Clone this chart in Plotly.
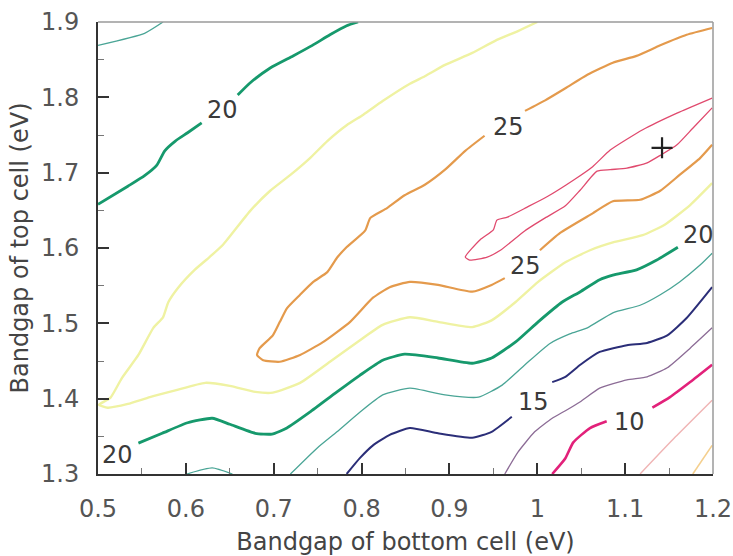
import plotly.graph_objects as go

# ---------------- data ----------------
x_tick_vals = [0.5, 0.6, 0.7, 0.8, 0.9, 1.0, 1.1, 1.2]
x_tick_text = ["0.5", "0.6", "0.7", "0.8", "0.9", "1", "1.1", "1.2"]
y_tick_vals = [1.3, 1.4, 1.5, 1.6, 1.7, 1.8, 1.9]
y_tick_text = ["1.3", "1.4", "1.5", "1.6", "1.7", "1.8", "1.9"]

# 27.5 % contour (red loop)
red_x = [1.199, 1.159, 1.120, 1.083, 1.063, 1.041, 1.011, 0.988, 0.966, 0.954, 0.950, 0.935, 0.918,
         0.923, 0.943, 0.958, 0.986, 1.009, 1.032, 1.049, 1.068, 1.083, 1.102, 1.125, 1.140, 1.159, 1.177, 1.199]
red_y = [1.799, 1.779, 1.757, 1.730, 1.708, 1.690, 1.668, 1.654, 1.641, 1.637, 1.624, 1.611, 1.588,
         1.584, 1.588, 1.597, 1.623, 1.640, 1.656, 1.677, 1.702, 1.704, 1.706, 1.713, 1.723, 1.737, 1.759, 1.786]

# 25 % contour (orange), three pieces separated by labels
orange_a_x = [1.199, 1.170, 1.140, 1.113, 1.086, 1.057, 1.032, 1.009, 0.986]
orange_a_y = [1.892, 1.883, 1.869, 1.855, 1.846, 1.830, 1.812, 1.796, 1.782]
orange_b_x = [0.940, 0.918, 0.895, 0.872, 0.849, 0.829, 0.810, 0.804, 0.782, 0.772, 0.761, 0.745, 0.730,
              0.715, 0.707, 0.699, 0.684, 0.681, 0.688, 0.707, 0.730, 0.756, 0.787, 0.813, 0.832, 0.855,
              0.887, 0.926, 0.948, 0.963]
orange_b_y = [1.749, 1.729, 1.704, 1.684, 1.670, 1.653, 1.640, 1.623, 1.600, 1.587, 1.568, 1.555, 1.538,
              1.520, 1.502, 1.484, 1.467, 1.458, 1.451, 1.449, 1.458, 1.475, 1.502, 1.534, 1.548, 1.555,
              1.551, 1.542, 1.551, 1.560]
orange_c_x = [1.003, 1.026, 1.063, 1.086, 1.117, 1.140, 1.162, 1.185, 1.199]
orange_c_y = [1.597, 1.620, 1.646, 1.662, 1.664, 1.676, 1.697, 1.719, 1.737]

# 22.5 % contour (pale yellow)
yellow_x = [1.000, 0.978, 0.952, 0.926, 0.895, 0.872, 0.855, 0.824, 0.802, 0.783, 0.761, 0.741, 0.719,
            0.696, 0.673, 0.642, 0.627, 0.610, 0.591, 0.580, 0.574, 0.563, 0.546, 0.527, 0.514, 0.501,
            0.511, 0.534, 0.559, 0.588, 0.622, 0.650, 0.679, 0.699, 0.730, 0.764, 0.795, 0.824, 0.855,
            0.887, 0.926, 0.948, 0.975, 1.001, 1.032, 1.060, 1.088, 1.120, 1.145, 1.174, 1.199]
yellow_y = [1.900, 1.888, 1.875, 1.859, 1.843, 1.828, 1.818, 1.795, 1.777, 1.763, 1.742, 1.719, 1.697,
            1.676, 1.649, 1.604, 1.588, 1.571, 1.547, 1.528, 1.508, 1.494, 1.458, 1.427, 1.401, 1.392,
            1.388, 1.393, 1.402, 1.411, 1.421, 1.417, 1.409, 1.408, 1.421, 1.449, 1.475, 1.498, 1.508,
            1.502, 1.495, 1.504, 1.528, 1.555, 1.581, 1.597, 1.608, 1.617, 1.631, 1.657, 1.686]

# 20 % contour (green)
green_a_x = [0.500, 0.534, 0.553, 0.567, 0.576, 0.588, 0.602, 0.618]
green_a_y = [1.658, 1.682, 1.696, 1.710, 1.729, 1.742, 1.753, 1.766]
green_b_x = [0.659, 0.673, 0.696, 0.722, 0.744, 0.764, 0.783, 0.796]
green_b_y = [1.803, 1.819, 1.839, 1.855, 1.869, 1.883, 1.895, 1.900]
green_c_x = [0.546, 0.573, 0.602, 0.630, 0.650, 0.679, 0.698, 0.715, 0.741, 0.772, 0.798, 0.824, 0.849,
             0.887, 0.926, 0.948, 0.975, 1.001, 1.028, 1.049, 1.071, 1.086, 1.113, 1.136, 1.160]
green_c_y = [1.341, 1.354, 1.368, 1.374, 1.366, 1.354, 1.353, 1.361, 1.382, 1.409, 1.431, 1.451, 1.459,
             1.454, 1.447, 1.454, 1.475, 1.502, 1.528, 1.542, 1.558, 1.564, 1.571, 1.584, 1.601]

# 17.5 % contour (teal)
teal_a_x = [0.500, 0.553, 0.574]
teal_a_y = [1.869, 1.885, 1.900]
teal_b_x = [0.601, 0.630, 0.653]
teal_b_y = [1.300, 1.308, 1.300]
teal_c_x = [0.719, 0.749, 0.772, 0.798, 0.824, 0.855, 0.895, 0.933, 0.960, 0.986, 1.014, 1.037, 1.057,
            1.086, 1.117, 1.140, 1.162, 1.185, 1.199]
teal_c_y = [1.300, 1.334, 1.356, 1.382, 1.405, 1.414, 1.405, 1.402, 1.418, 1.445, 1.473, 1.486, 1.494,
            1.514, 1.524, 1.538, 1.555, 1.577, 1.593]

# 15 % contour (dark blue)
blue_a_x = [0.783, 0.798, 0.813, 0.832, 0.855, 0.887, 0.926, 0.948, 0.971]
blue_a_y = [1.300, 1.321, 1.338, 1.352, 1.361, 1.354, 1.348, 1.356, 1.376]
blue_b_x = [1.017, 1.032, 1.049, 1.071, 1.102, 1.125, 1.148, 1.170, 1.199]
blue_b_y = [1.422, 1.429, 1.445, 1.462, 1.471, 1.474, 1.484, 1.507, 1.548]

# 12.5 % contour (mauve)
purple_x = [0.963, 0.978, 0.997, 1.017, 1.032, 1.049, 1.071, 1.102, 1.125, 1.148, 1.174, 1.199]
purple_y = [1.300, 1.329, 1.356, 1.374, 1.384, 1.396, 1.414, 1.425, 1.429, 1.441, 1.467, 1.494]

# 10 % contour (magenta)
magenta_a_x = [1.017, 1.032, 1.041, 1.060, 1.079]
magenta_a_y = [1.300, 1.321, 1.342, 1.361, 1.370]
magenta_b_x = [1.131, 1.151, 1.174, 1.199]
magenta_b_y = [1.388, 1.402, 1.422, 1.445]

# 7.5 % and 5 % contours
pink_x = [1.117, 1.157, 1.199]
pink_y = [1.300, 1.349, 1.398]
lorange_x = [1.177, 1.199]
lorange_y = [1.300, 1.338]

# contour labels
label_text = ["20", "25", "25", "20", "15", "10", "20"]
label_x = [0.642, 0.967, 0.987, 1.184, 0.996, 1.105, 0.522]
label_y = [1.783, 1.761, 1.576, 1.617, 1.396, 1.369, 1.325]

# optimum marker
best_x = [1.142]
best_y = [1.733]

x_title = "Bandgap of bottom cell (eV)"
y_title = "Bandgap of top cell (eV)"

# ---------------- figure ----------------
FONT = "DejaVu Sans"
fig = go.Figure()


def add_line(xs, ys, color, width):
    fig.add_trace(go.Scatter(x=xs, y=ys, mode="lines",
                             line=dict(color=color, width=width, shape="spline", smoothing=0.5),
                             hoverinfo="skip", showlegend=False))


add_line(lorange_x, lorange_y, "#f4cf8e", 1.6)
add_line(pink_x, pink_y, "#f0b4b4", 1.4)
add_line(magenta_a_x, magenta_a_y, "#e2217a", 2.6)
add_line(magenta_b_x, magenta_b_y, "#e2217a", 2.6)
add_line(purple_x, purple_y, "#8c6c96", 1.3)
add_line(blue_a_x, blue_a_y, "#2b2e78", 2.0)
add_line(blue_b_x, blue_b_y, "#2b2e78", 2.0)
add_line(teal_a_x, teal_a_y, "#4aa596", 1.3)
add_line(teal_b_x, teal_b_y, "#4aa596", 1.3)
add_line(teal_c_x, teal_c_y, "#4aa596", 1.3)
add_line(green_a_x, green_a_y, "#16996c", 2.8)
add_line(green_b_x, green_b_y, "#16996c", 2.8)
add_line(green_c_x, green_c_y, "#16996c", 2.8)
add_line(yellow_x, yellow_y, "#eff2a2", 2.4)
add_line(orange_a_x, orange_a_y, "#e49a4c", 2.2)
add_line(orange_b_x, orange_b_y, "#e49a4c", 2.2)
add_line(orange_c_x, orange_c_y, "#e49a4c", 2.2)
add_line(red_x, red_y, "#e04a6e", 1.3)

fig.add_trace(go.Scatter(x=best_x, y=best_y, mode="markers",
                         marker=dict(symbol="cross-thin", size=15, line=dict(color="#222", width=2.2)),
                         hoverinfo="skip", showlegend=False))

for t, lx, ly in zip(label_text, label_x, label_y):
    fig.add_annotation(x=lx, y=ly, text=t, showarrow=False,
                       font=dict(family=FONT, size=24, color="#3a3a3a"))

fig.update_layout(
    width=733, height=556,
    margin=dict(l=98, r=20, t=22, b=82),
    plot_bgcolor="white", paper_bgcolor="white",
    showlegend=False,
    font=dict(family=FONT, size=24, color="#555"),
    shapes=[
        dict(type="line", xref="paper", yref="paper", x0=0, x1=1, y0=1, y1=1,
             line=dict(color="#9a9a9a", width=1.5)),
        dict(type="line", xref="paper", yref="paper", x0=1, x1=1, y0=0, y1=1,
             line=dict(color="#9a9a9a", width=1.5)),
    ],
)

fig.update_xaxes(
    range=[0.5, 1.2], tickvals=x_tick_vals, ticktext=x_tick_text, automargin=False,
    ticks="inside", ticklen=11, tickwidth=1.5, tickcolor="#333",
    showline=True, linecolor="#333", linewidth=2,
    showgrid=False, zeroline=False, ticklabelstandoff=12,
    minor=dict(ticks="inside", ticklen=6, tickwidth=1, tickcolor="#777", dtick=0.05, tick0=0.5, showgrid=False),
    tickfont=dict(family=FONT, size=24, color="#555"),
    title=dict(text=x_title, standoff=12, font=dict(family=FONT, size=24, color="#444")),
)
fig.update_yaxes(
    range=[1.3, 1.9], tickvals=y_tick_vals, ticktext=y_tick_text, automargin=False,
    ticks="inside", ticklen=11, tickwidth=1.5, tickcolor="#333",
    showline=True, linecolor="#333", linewidth=2,
    showgrid=False, zeroline=False, ticklabelstandoff=12,
    minor=dict(ticks="inside", ticklen=6, tickwidth=1, tickcolor="#777", dtick=0.05, tick0=1.3, showgrid=False),
    tickfont=dict(family=FONT, size=24, color="#555"),
    title=dict(text=y_title, standoff=6, font=dict(family=FONT, size=24, color="#444")),
)

fig.write_html("out.html")
